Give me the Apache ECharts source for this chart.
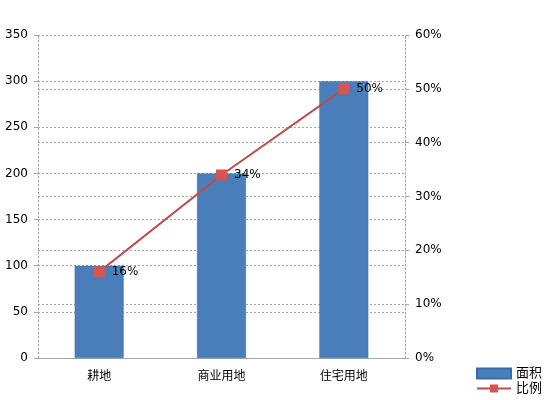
<!DOCTYPE html>
<html><head><meta charset="utf-8">
<script src="https://cdn.jsdelivr.net/npm/echarts@6/dist/echarts.min.js"></script>
<style>html,body{margin:0;padding:0;background:#fff}#c{width:548px;height:400px}</style>
</head><body><div id="c"></div>
<script>
const categories = ['耕地', '商业用地', '住宅用地'];
const areaValues = [100, 200, 300];
const ratioValues = [16, 34, 50];
const leftTicks = [0, 350, 50];
const rightTicks = [0, 60, 10];

const chart = echarts.init(document.getElementById('c'));
const gridLine = {show: true, lineStyle: {color: '#a6a6a6', type: [2, 2], width: 1}};
const font = 'DejaVu Sans, Noto Sans CJK SC, sans-serif';
const legendBase = {
  left: 476, itemGap: 2, itemWidth: 34, itemHeight: 10, padding: 0,
  textStyle: {fontSize: 13, color: '#000', fontFamily: font}
};
chart.setOption({
  animation: false,
  textStyle: {fontFamily: font},
  grid: {left: 38, right: 143, top: 35, bottom: 42},
  legend: [
    Object.assign({}, legendBase, {top: 367, data: [{name: '面积', icon: 'rect'}]}),
    Object.assign({}, legendBase, {top: 382, data: [{name: '比例'}]})
  ],
  xAxis: {
    type: 'category', data: categories,
    axisLine: {lineStyle: {color: '#a6a6a6'}},
    axisTick: {show: false},
    axisLabel: {color: '#000', fontSize: 12, margin: 13}
  },
  yAxis: [
    {type: 'value', min: leftTicks[0], max: leftTicks[1], interval: leftTicks[2],
     axisLine: {show: true, lineStyle: {color: '#a6a6a6', type: [2, 2]}},
     axisTick: {show: true, length: 4, lineStyle: {color: '#a6a6a6'}},
     axisLabel: {color: '#000', fontSize: 12, margin: 10},
     splitLine: gridLine},
    {type: 'value', min: rightTicks[0], max: rightTicks[1], interval: rightTicks[2],
     axisLine: {show: true, lineStyle: {color: '#a6a6a6', type: [2, 2]}},
     axisTick: {show: true, length: 4, lineStyle: {color: '#a6a6a6'}},
     axisLabel: {color: '#000', fontSize: 12, margin: 10, formatter: '{value}%'},
     splitLine: gridLine}
  ],
  series: [
    {name: '面积', type: 'bar', data: areaValues, barWidth: '40%', yAxisIndex: 0,
     itemStyle: {color: '#4a7ebb', borderColor: '#3a6aa8', borderWidth: 0.5}},
    {name: '比例', type: 'line', data: ratioValues, yAxisIndex: 1,
     symbol: 'rect', symbolSize: 11,
     lineStyle: {color: '#be4b48', width: 2},
     itemStyle: {color: '#d9534f', borderColor: '#be4b48', borderWidth: 0},
     label: {show: true, position: 'right', distance: 7, color: '#000', fontSize: 12,
             formatter: p => p.value + '%'}}
  ]
});
</script></body></html>
